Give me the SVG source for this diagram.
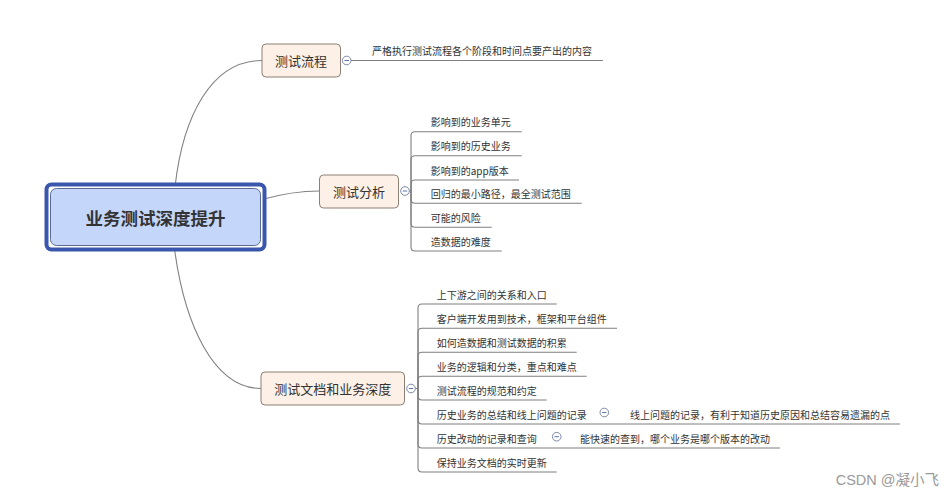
<svg xmlns="http://www.w3.org/2000/svg" width="947" height="499" viewBox="0 0 947 499">
<style>
text{font-family:"Noto Sans CJK SC","Noto Sans",sans-serif;fill:#333;}
.sub{font-size:13px;dominant-baseline:central;text-anchor:middle;}
.leaf{font-size:10px;dominant-baseline:central;}
.con{fill:none;stroke:#808080;stroke-width:1.1;}
.node{fill:#fdf0e6;stroke:#8d7f74;stroke-width:1;}
.fold{fill:#fff;stroke:#7c8aa6;stroke-width:1;}
.minus{stroke:#5a6fb0;stroke-width:1;}
</style>
<defs>
<g id="foldbtn"><circle class="fold" cx="0" cy="0" r="4.3"/><line class="minus" x1="-2.2" y1="0" x2="2.2" y2="0"/></g>
</defs>
<rect width="947" height="499" fill="#fff"/>
<g id="connectors">
<path class="con" d="M175,187 C183,115 212,60.5 262,60.5"/>
<path class="con" d="M262,199.5 C285,193 300,191 319.5,191"/>
<path class="con" d="M174,245 C184,325 214,388.5 261,388.5"/>
<path class="con" d="M351,60.5 H603"/>
<!-- 测试分析 children -->
<path class="con" d="M409.3,191 H411 V135.7 Q411,131.7 415,131.7 H521.7"/>
<path class="con" d="M411,191 V159.7 Q411,155.7 415,155.7 H521.7"/>
<path class="con" d="M411,191 V184 Q411,180 415,180 H519"/>
<path class="con" d="M411,191 V199.3 Q411,203.3 415,203.3 H581.7"/>
<path class="con" d="M411,191 V223.3 Q411,227.3 415,227.3 H491.7"/>
<path class="con" d="M411,191 V247 Q411,251 415,251 H501.7"/>
<!-- 测试文档和业务深度 children -->
<path class="con" d="M415.3,388.5 H418 V308 Q418,304 422,304 H556.7"/>
<path class="con" d="M418,388.5 V332.3 Q418,328.3 422,328.3 H617"/>
<path class="con" d="M418,388.5 V356.3 Q418,352.3 422,352.3 H576.7"/>
<path class="con" d="M418,388.5 V380.3 Q418,376.3 422,376.3 H586.7"/>
<path class="con" d="M418,388.5 V396 Q418,400 422,400 H546.7"/>
<path class="con" d="M418,388.5 V420 Q418,424 422,424 H900"/>
<path class="con" d="M418,388.5 V444 Q418,448 422,448 H780"/>
<path class="con" d="M418,388.5 V468 Q418,472 422,472 H556.7"/>
</g>
<g id="root">
<rect x="46.5" y="184.5" width="218" height="65" rx="5" fill="#fff" stroke="#3b57ad" stroke-width="4"/>
<rect x="50.5" y="188.5" width="210" height="57" rx="6" fill="#c4d7fb" stroke="#5b6a8e" stroke-width="1"/>
<text x="155.5" y="217" font-size="17.5" font-weight="bold" text-anchor="middle" dominant-baseline="central">业务测试深度提升</text>
</g>
<g id="n-liucheng">
<rect class="node" x="262" y="44" width="78.5" height="33" rx="4"/>
<text class="sub" x="301" y="60.5">测试流程</text>
<use href="#foldbtn" x="346.7" y="60.5"/>
<text class="leaf" x="372" y="50">严格执行测试流程各个阶段和时间点要产出的内容</text>
</g>
<g id="n-fenxi">
<rect class="node" x="319.5" y="175" width="79" height="33" rx="4"/>
<text class="sub" x="359" y="191.5">测试分析</text>
<use href="#foldbtn" x="405" y="191"/>
<text class="leaf" x="430.7" y="121.7">影响到的业务单元</text>
<text class="leaf" x="430.7" y="145.7">影响到的历史业务</text>
<text class="leaf" x="430.7" y="170">影响到的app版本</text>
<text class="leaf" x="430.7" y="193.3">回归的最小路径，最全测试范围</text>
<text class="leaf" x="430.7" y="217.3">可能的风险</text>
<text class="leaf" x="430.7" y="241">造数据的难度</text>
</g>
<g id="n-wendang">
<rect class="node" x="261" y="372" width="143.5" height="33" rx="4"/>
<text class="sub" x="332.7" y="388.5">测试文档和业务深度</text>
<use href="#foldbtn" x="411" y="388.5"/>
<text class="leaf" x="436.7" y="294">上下游之间的关系和入口</text>
<text class="leaf" x="436.7" y="318.3">客户端开发用到技术，框架和平台组件</text>
<text class="leaf" x="436.7" y="342.3">如何造数据和测试数据的积累</text>
<text class="leaf" x="436.7" y="366.3">业务的逻辑和分类，重点和难点</text>
<text class="leaf" x="436.7" y="390">测试流程的规范和约定</text>
<text class="leaf" x="436.7" y="414">历史业务的总结和线上问题的记录</text>
<use href="#foldbtn" x="604.3" y="412.5"/>
<text class="leaf" x="630" y="414">线上问题的记录，有利于知道历史原因和总结容易遗漏的点</text>
<text class="leaf" x="436.7" y="438">历史改动的记录和查询</text>
<use href="#foldbtn" x="556.7" y="436.7"/>
<text class="leaf" x="580" y="438">能快速的查到，哪个业务是哪个版本的改动</text>
<text class="leaf" x="436.7" y="462">保持业务文档的实时更新</text>
</g>
<text x="939" y="479.5" font-size="14.5" text-anchor="end" dominant-baseline="central" style="fill:#9a9a9a;font-family:'Liberation Sans','Noto Sans CJK SC',sans-serif">CSDN @凝小飞</text>
</svg>
